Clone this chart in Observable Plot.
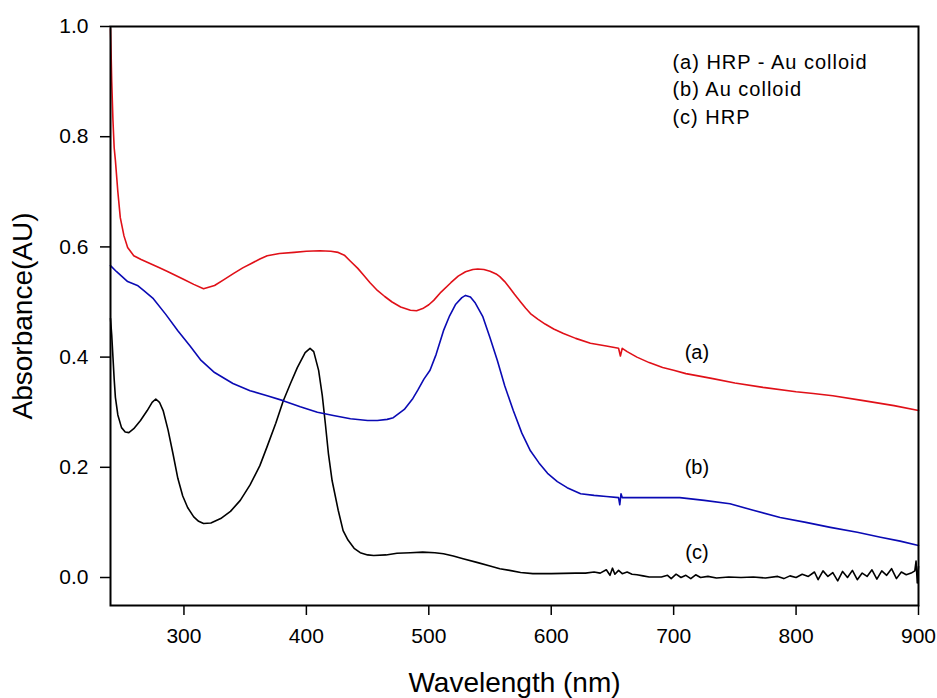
<!DOCTYPE html>
<html>
<head>
<meta charset="utf-8">
<script src="https://cdn.jsdelivr.net/npm/d3@7"></script>
<script src="https://cdn.jsdelivr.net/npm/@observablehq/plot@0.6"></script>
<style>
  html, body { margin: 0; padding: 0; background: #fff; }
  #chart svg { display: block; }
</style>
</head>
<body>
<div id="chart"></div>
<script>
// (a) HRP - Au colloid
const wavelengthA = [240, 240.5, 241, 242, 243, 244, 246, 248, 251, 254, 259, 265, 270, 280, 287, 300, 308, 316, 325, 333, 340, 348, 355, 362, 368, 378, 390, 400, 411, 420, 426, 431, 436, 442, 447, 452, 458, 464, 470, 477, 485, 490, 495, 500, 504, 510, 518, 524, 530, 536, 540, 545, 550, 555, 558, 562, 566, 570, 575, 579, 583, 589, 595, 602, 610, 620, 632, 645, 655, 656.5, 658, 662, 670, 680, 691, 700, 710, 720, 732, 750, 773, 800, 814, 830, 855, 880, 900];
const absorbanceA = [0.996, 0.95, 0.90, 0.83, 0.78, 0.757, 0.70, 0.653, 0.62, 0.599, 0.584, 0.577, 0.572, 0.562, 0.555, 0.541, 0.532, 0.524, 0.530, 0.541, 0.551, 0.562, 0.570, 0.578, 0.584, 0.588, 0.590, 0.592, 0.593, 0.592, 0.590, 0.585, 0.574, 0.561, 0.548, 0.535, 0.521, 0.510, 0.500, 0.491, 0.485, 0.484, 0.488, 0.495, 0.503, 0.518, 0.535, 0.547, 0.555, 0.559, 0.560, 0.559, 0.556, 0.551, 0.546, 0.537, 0.526, 0.514, 0.500, 0.489, 0.479, 0.469, 0.460, 0.451, 0.443, 0.434, 0.425, 0.420, 0.416, 0.402, 0.416, 0.410, 0.400, 0.390, 0.381, 0.376, 0.370, 0.366, 0.361, 0.353, 0.345, 0.337, 0.334, 0.330, 0.321, 0.312, 0.303];

// (b) Au colloid
const wavelengthB = [240, 245, 254, 262, 267, 275, 285, 295, 305, 314, 325, 340, 354, 368, 381, 395, 409, 422, 436, 450, 458, 466, 471, 480, 487, 491, 496, 501, 506, 512, 517, 522, 527, 530, 534, 538, 544, 550, 556, 562, 569, 576, 583, 590, 597, 605, 613, 624, 635, 645, 655, 656, 657, 658, 680, 705, 725, 746, 765, 787, 808, 828, 850, 869, 885, 900];
const absorbanceB = [0.566, 0.555, 0.537, 0.530, 0.521, 0.506, 0.478, 0.448, 0.420, 0.394, 0.372, 0.352, 0.339, 0.330, 0.321, 0.310, 0.300, 0.294, 0.288, 0.285, 0.285, 0.287, 0.290, 0.305, 0.325, 0.340, 0.360, 0.376, 0.405, 0.448, 0.475, 0.496, 0.508, 0.512, 0.509, 0.498, 0.474, 0.435, 0.394, 0.348, 0.303, 0.262, 0.230, 0.208, 0.189, 0.174, 0.163, 0.152, 0.149, 0.147, 0.145, 0.132, 0.152, 0.145, 0.145, 0.145, 0.140, 0.134, 0.122, 0.109, 0.100, 0.091, 0.082, 0.073, 0.066, 0.058];

// (c) HRP
const wavelengthC = [240, 241, 242, 243, 244, 246, 249, 252, 255, 259, 264.5, 270, 274, 277, 280, 283, 287, 291, 295, 299, 303, 308, 312, 316, 322, 330, 338, 346, 354, 362, 368, 375, 381, 387, 392.6, 399, 403, 406, 410, 413, 415.5, 418, 421, 426, 430, 434, 439, 444, 450, 455, 465, 474, 485, 495, 505, 512, 520, 528, 540, 550, 558, 566, 575, 585, 600, 620, 628, 635, 640, 645, 648, 650, 652, 655, 658, 662, 666, 670, 675, 680, 690, 695, 698, 702, 706, 710, 714, 718, 722, 728, 735, 745, 755, 765, 775, 785, 790, 795, 800, 805, 810, 815, 818, 822, 826, 830, 834, 838, 842, 846, 850, 854, 858, 862, 866, 870, 874, 878, 882, 886, 890, 894, 897, 898, 899, 900];
const absorbanceC = [0.47, 0.44, 0.40, 0.36, 0.327, 0.295, 0.272, 0.264, 0.263, 0.270, 0.285, 0.303, 0.318, 0.324, 0.318, 0.303, 0.268, 0.225, 0.180, 0.148, 0.127, 0.110, 0.102, 0.098, 0.099, 0.107, 0.120, 0.140, 0.168, 0.203, 0.238, 0.280, 0.320, 0.352, 0.381, 0.408, 0.416, 0.410, 0.376, 0.330, 0.279, 0.225, 0.176, 0.122, 0.085, 0.068, 0.053, 0.045, 0.041, 0.040, 0.041, 0.044, 0.045, 0.046, 0.045, 0.043, 0.039, 0.034, 0.027, 0.021, 0.016, 0.013, 0.009, 0.007, 0.007, 0.008, 0.008, 0.010, 0.008, 0.014, 0.004, 0.017, 0.006, 0.013, 0.007, 0.010, 0.006, 0.005, 0.003, 0.001, 0.001, 0.004, -0.002, 0.006, 0.000, 0.004, -0.002, 0.005, 0.000, 0.002, -0.001, 0.001, 0.000, 0.001, -0.001, 0.002, -0.002, 0.003, 0.000, 0.006, 0.002, 0.010, -0.004, 0.012, 0.002, 0.009, -0.006, 0.011, 0.000, 0.013, -0.004, 0.008, 0.002, 0.014, -0.003, 0.012, 0.004, 0.016, -0.002, 0.010, 0.005, 0.008, 0.012, 0.030, -0.010, 0.020];

const xTicks = [300, 400, 500, 600, 700, 800, 900];
const yTicks = [0.0, 0.2, 0.4, 0.6, 0.8, 1.0];

const legendLines = ["(a) HRP - Au colloid", "(b) Au colloid", "(c) HRP"];
const legendX = 699;
const legendY = [0.935, 0.885, 0.835];

const curveLabels = ["(a)", "(b)", "(c)"];
const curveLabelX = 719;
const curveLabelY = [0.408, 0.200, 0.045];

const xTitle = "Wavelength (nm)";
const yTitle = "Absorbance(AU)";

const toRows = (xs, ys) => xs.map((x, i) => ({nm: x, abs: ys[i]}));
const dataA = toRows(wavelengthA, absorbanceA);
const dataB = toRows(wavelengthB, absorbanceB);
const dataC = toRows(wavelengthC, absorbanceC);

const chart = Plot.plot({
  width: 937,
  height: 698,
  marginLeft: 110,
  marginRight: 19,
  marginTop: 26,
  marginBottom: 93,
  style: {fontFamily: "'Liberation Sans', Arial, sans-serif", background: "#fff", color: "#000"},
  x: {domain: [240, 900]},
  y: {domain: [-0.0508, 1.0]},
  marks: [
    Plot.axisX({ticks: xTicks, tickSize: 10, tickPadding: 13, fontSize: 21, label: null, strokeWidth: 1.5}),
    Plot.axisY({ticks: yTicks, tickSize: 10, tickPadding: 12, fontSize: 21, tickFormat: d3.format(".1f"), label: null, strokeWidth: 1.5}),
    Plot.line(dataC, {x: "nm", y: "abs", stroke: "#000000", strokeWidth: 1.6}),
    Plot.line(dataB, {x: "nm", y: "abs", stroke: "#0a0ab4", strokeWidth: 1.6}),
    Plot.line(dataA, {x: "nm", y: "abs", stroke: "#e01018", strokeWidth: 1.6}),
    Plot.frame({stroke: "#000", strokeWidth: 2}),
    Plot.text(legendLines, {x: () => legendX, y: (d, i) => legendY[i], text: d => d, textAnchor: "start", fontSize: 20, fill: "#000"}),
    Plot.text(curveLabels, {x: () => curveLabelX, y: (d, i) => curveLabelY[i], text: d => d, fontSize: 20, fill: "#000"}),
    Plot.text([xTitle], {frameAnchor: "bottom", lineAnchor: "middle", textAnchor: "middle", dy: 78, text: d => d, fontSize: 28, fill: "#000"}),
    Plot.text([yTitle], {frameAnchor: "left", lineAnchor: "middle", textAnchor: "middle", dx: -87, rotate: -90, text: d => d, fontSize: 28, fill: "#000"})
  ]
});

d3.select(chart).selectAll("text")
  .filter(function() { return legendLines.includes(this.textContent); })
  .attr("letter-spacing", "1px");

document.getElementById("chart").appendChild(chart);
</script>
</body>
</html>
